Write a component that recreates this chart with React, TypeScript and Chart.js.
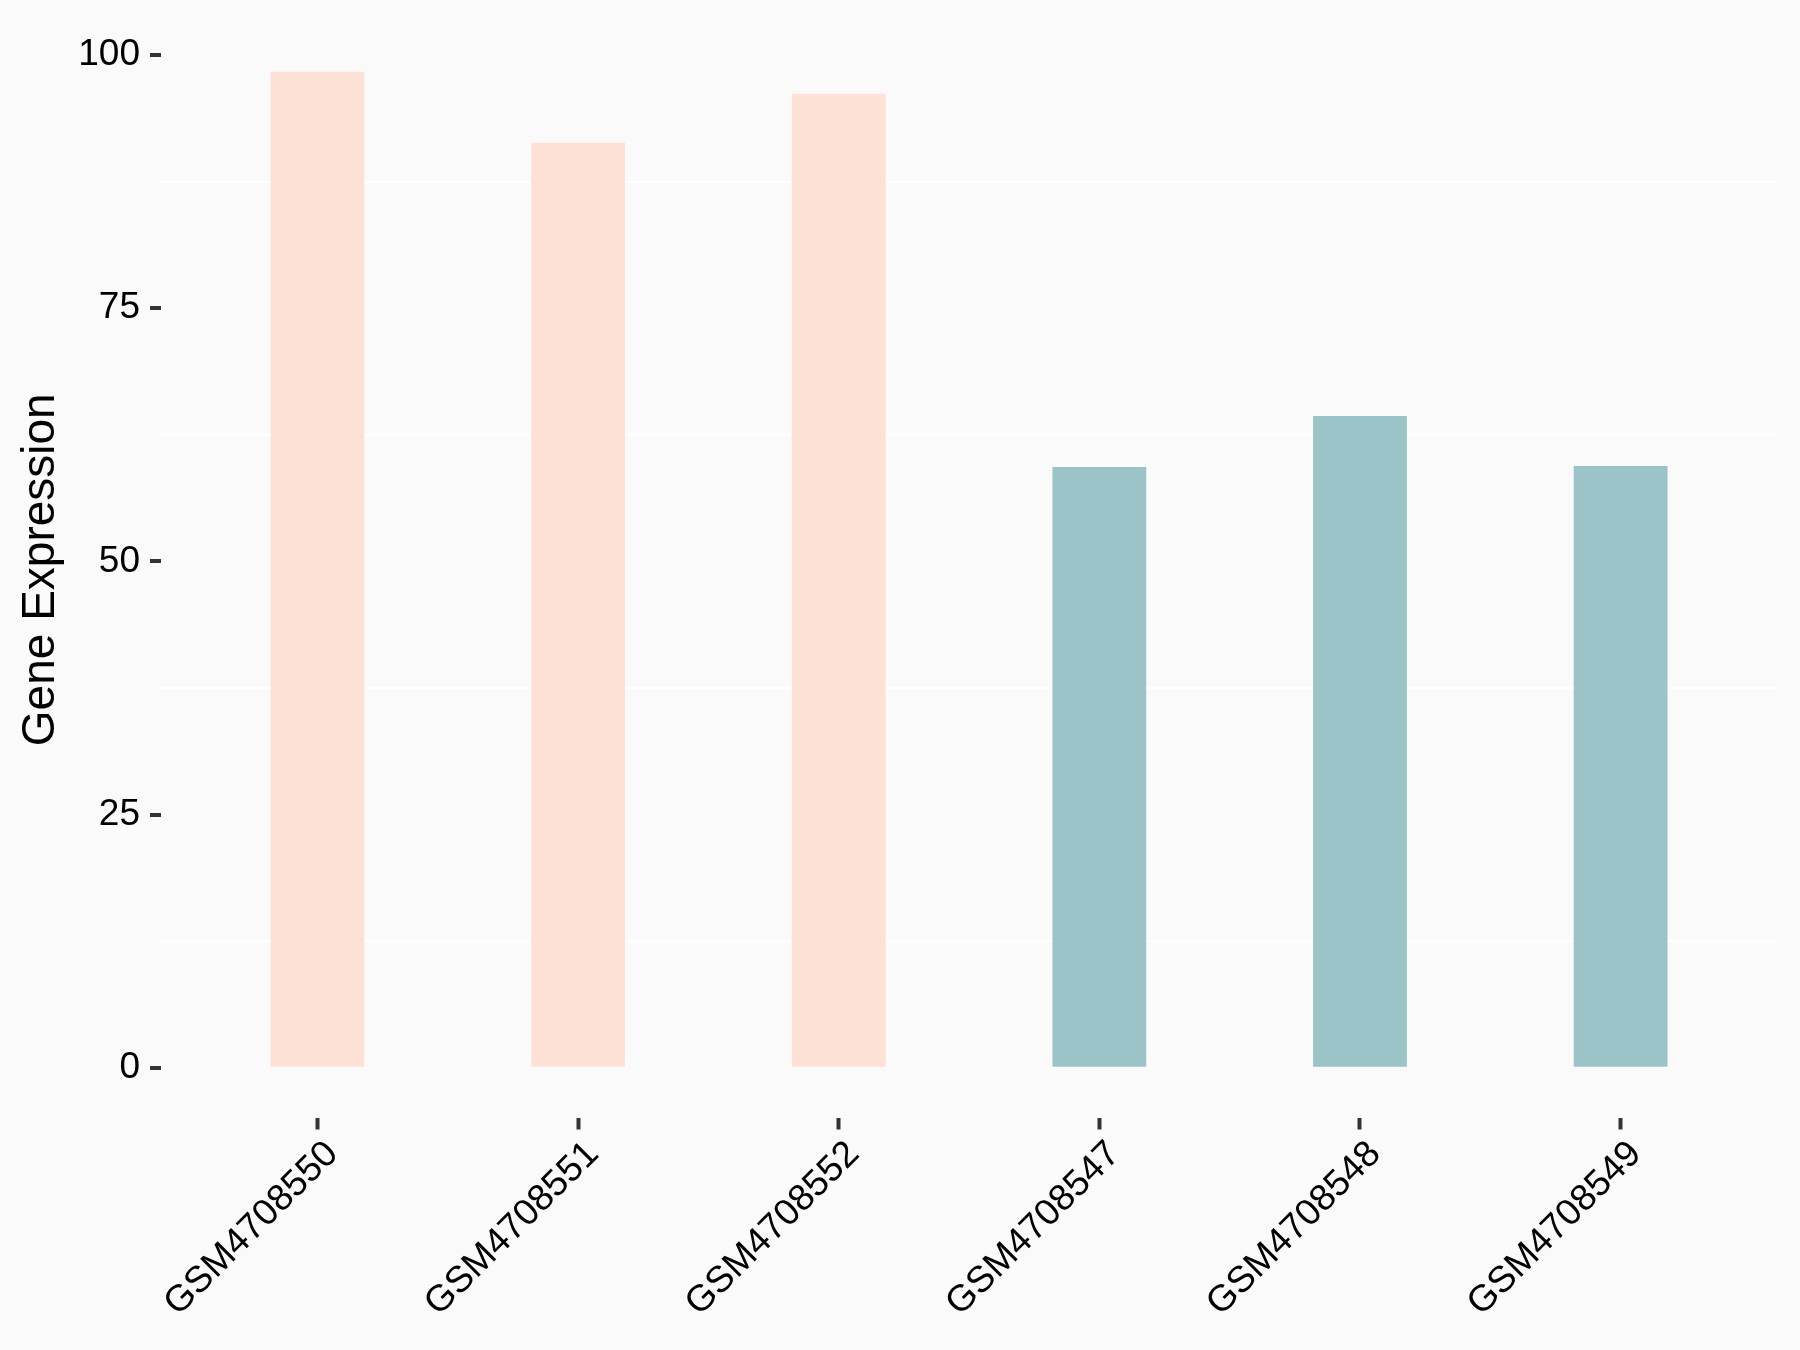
import React, { useEffect, useRef } from 'react';
import { Chart, registerables } from 'chart.js';

Chart.register(...registerables);

const categories = ['GSM4708550', 'GSM4708551', 'GSM4708552', 'GSM4708547', 'GSM4708548', 'GSM4708549'];
const expression = [98.35, 91.34, 96.18, 59.33, 64.37, 59.43];
const groups = ['high', 'high', 'high', 'low', 'low', 'low'];
const groupColors: Record<string, string> = { high: '#FEE1D6', low: '#9CC4C8' };
const yTickStep = 12.5;
const yLabelStep = 25;
const yAxisTitle = 'Gene Expression';

const FONT = "'Liberation Sans', Arial, sans-serif";

export default function App() {
  const ref = useRef<HTMLCanvasElement>(null);

  useEffect(() => {
    document.body.style.margin = '0';
    document.body.style.background = '#FAFAFA';
    const yMax = Math.max(...expression);
    const chart = new Chart(ref.current!, {
      type: 'bar',
      data: {
        datasets: [
          {
            data: expression.map((v, i) => ({ x: i, y: v })),
            backgroundColor: groups.map((g) => groupColors[g]),
            borderWidth: 0,
            barPercentage: 0.36,
            categoryPercentage: 1,
          },
        ],
      },
      options: {
        animation: false,
        responsive: false,
        devicePixelRatio: 1,
        layout: { padding: { left: 0, right: 23, top: 22, bottom: 0 } },
        plugins: { legend: { display: false }, tooltip: { enabled: false } },
        scales: {
          x: {
            type: 'linear',
            min: -0.6,
            max: categories.length - 0.4,
            offset: false,
            border: { display: false },
            grid: {
              offset: false,
              drawOnChartArea: false,
              color: 'rgba(0,0,0,0)',
              tickColor: '#333333',
              tickLength: 12,
              tickWidth: 4,
            },
            ticks: {
              stepSize: 1,
              includeBounds: false,
              autoSkip: false,
              maxTicksLimit: 20,
              minRotation: 45,
              maxRotation: 45,
              padding: 3,
              labelOffset: 15,
              color: '#000000',
              font: { family: FONT, size: 37 },
              callback: (v: any) => categories[v as number] ?? '',
            },
            afterFit: (s: any) => {
              s.height = 232.5;
              s.paddingLeft = 0;
              s.paddingRight = 0;
              s.paddingTop = 0;
              s.paddingBottom = 0;
            },
          },
          y: {
            type: 'linear',
            min: -0.05 * yMax,
            max: 1.05 * yMax,
            border: { display: false },
            grid: {
              color: (ctx: any) =>
                ctx.tick && ctx.tick.value % yLabelStep !== 0 ? '#FFFFFF' : 'rgba(0,0,0,0)',
              lineWidth: 2,
              tickColor: (ctx: any) =>
                ctx.tick && ctx.tick.value % yLabelStep === 0 ? '#333333' : 'rgba(0,0,0,0)',
              tickLength: 11,
              tickWidth: 4,
            },
            ticks: {
              stepSize: yTickStep,
              includeBounds: false,
              maxTicksLimit: 20,
              padding: 10,
              color: '#000000',
              font: { family: FONT, size: 37 },
              callback: (v: any) => ((v as number) % yLabelStep === 0 ? String(v) : ''),
            },
            title: {
              display: true,
              text: yAxisTitle,
              color: '#000000',
              font: { family: FONT, size: 46 },
              padding: { top: 14, bottom: 0 },
            },
            afterFit: (s: any) => {
              s.width = 161;
              s.paddingTop = 0;
              s.paddingBottom = 0;
              s.paddingLeft = 0;
              s.paddingRight = 0;
            },
          },
        },
      },
    });
    return () => chart.destroy();
  }, []);

  return (
    <div style={{ width: 1800, height: 1350, background: '#FAFAFA' }}>
      <canvas ref={ref} width={1800} height={1350} style={{ display: 'block' }} />
    </div>
  );
}
